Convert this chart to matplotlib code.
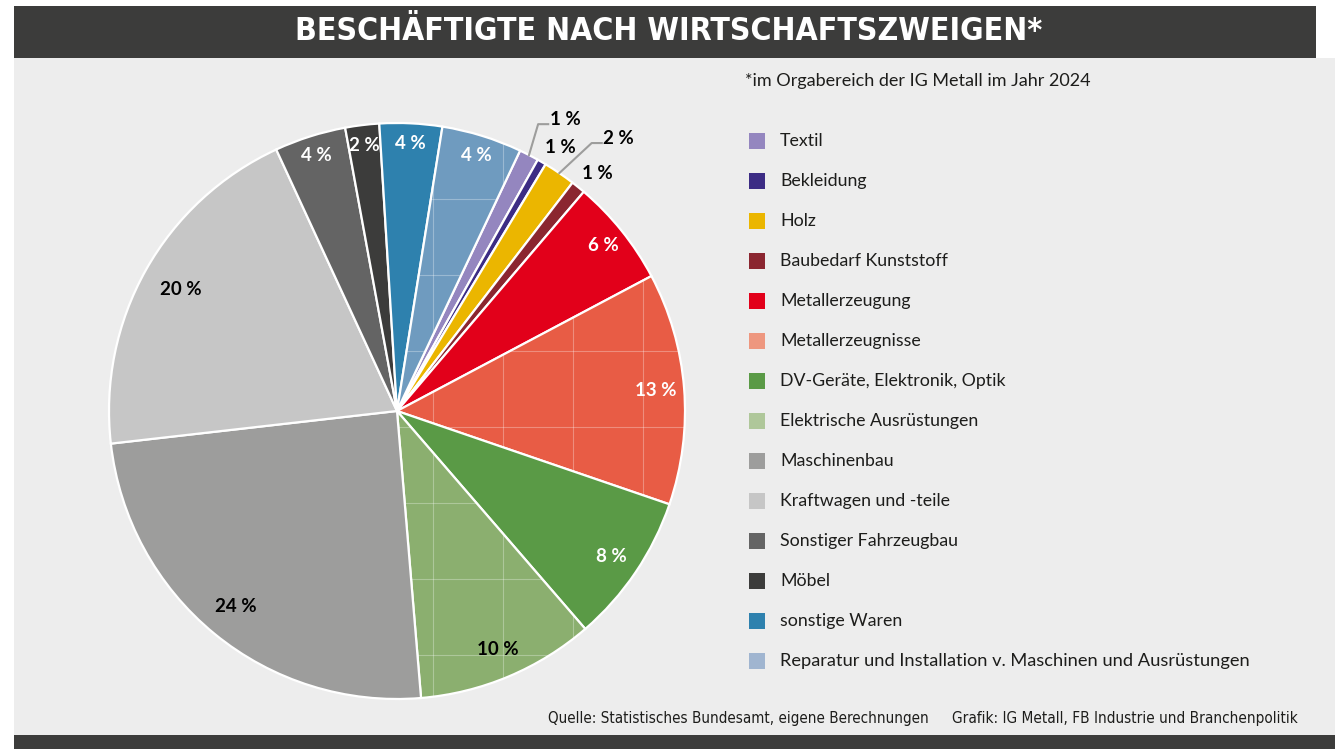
import numpy as np
import matplotlib
matplotlib.use("Agg")
import matplotlib.pyplot as plt
from matplotlib.patches import Rectangle
from matplotlib import font_manager

# data (clockwise from the top)
branches = ['Textil', 'Bekleidung', 'Holz', 'Baubedarf Kunststoff', 'Metallerzeugung',
            'Metallerzeugnisse', 'DV-Geräte, Elektronik, Optik', 'Elektrische Ausrüstungen',
            'Maschinenbau', 'Kraftwagen und -teile', 'Sonstiger Fahrzeugbau', 'Möbel',
            'sonstige Waren', 'Reparatur und Installation v. Maschinen und Ausrüstungen']
shares = [1.1, 0.5, 1.8, 0.8, 6.0, 13.0, 8.4, 10.0, 24.5, 19.9, 4.0, 1.9, 3.5, 4.5]
share_labels = ['1 %', '1 %', '2 %', '1 %', '6 %', '13 %', '8 %', '10 %', '24 %', '20 %',
                '4 %', '2 %', '4 %', '4 %']

slice_colors = ['#9486BF', '#3C2C84', '#EBB600', '#8B2630', '#E2001A', '#E85C45', '#5A9A46',
                '#8BAF6F', '#9D9D9C', '#C6C6C6', '#646464', '#3C3C3B', '#2E81AE', '#6F9BBF']
legend_colors = ['#9486BF', '#3C2C84', '#EBB600', '#8B2630', '#E2001A', '#EE977F', '#5A9A46',
                 '#AFC79A', '#9D9D9C', '#C6C6C6', '#646464', '#3C3C3B', '#2E81AE', '#A0B5D0']
label_colors = ['black', 'black', 'black', 'black', 'white', 'white', 'white', 'black',
                'black', 'black', 'white', 'white', 'white', 'white']

names = {f.name for f in font_manager.fontManager.ttflist}
body_font = 'Lato' if 'Lato' in names else 'DejaVu Sans'
if 'Liberation Sans Narrow' in names:
    narrow, stretch = 'Liberation Sans Narrow', 'normal'
else:
    narrow, stretch = 'DejaVu Sans', 'condensed'

W, H = 1335, 749
DARK = '#3C3C3B'
PANEL = '#EDEDED'
TXT = '#1D1D1B'

fig = plt.figure(figsize=(W / 100, H / 100), dpi=100)
fig.patch.set_facecolor('white')
renderer = fig.canvas.get_renderer()


def box(x0, y0, x1, y1, color):
    # pixel coords, y from the top
    fig.add_artist(Rectangle((x0 / W, 1 - y1 / H), (x1 - x0) / W, (y1 - y0) / H,
                             transform=fig.transFigure, color=color, lw=0, zorder=0))


def fit(t, width):
    # scale the font so the text is as wide as in the reference
    bb = t.get_window_extent(renderer)
    t.set_fontsize(t.get_fontsize() * width / bb.width)


box(14, 58, 1335, 735, PANEL)
box(14, 6, 1316, 58, DARK)
box(14, 735, 1335, 749, DARK)

title = fig.text(669 / W, 1 - 32 / H, 'BESCHÄFTIGTE NACH WIRTSCHAFTSZWEIGEN*', color='white',
                 fontsize=30, fontweight='bold', family=narrow, fontstretch=stretch,
                 ha='center', va='center')
fit(title, 745)

# pie axes, center (397, 411), radius 288 px
cx, cy, R = 397, 411, 288
pad = 1.02
ax = fig.add_axes([(cx - R * pad) / W, (H - cy - R * pad) / H, 2 * pad * R / W, 2 * pad * R / H])
wedges, _ = ax.pie(shares, colors=slice_colors, startangle=64.7, counterclock=False,
                   radius=1, wedgeprops=dict(edgecolor='white', linewidth=1.6))
ax.set_xlim(-pad, pad)
ax.set_ylim(-pad, pad)
ax.axis('off')

# faint grid texture seen in three of the slices
for i in [5, 7, 13]:
    for gx in np.arange(433, 700, 70):
        ln, = ax.plot([(gx - cx) / R] * 2, [-1.1, 1.1], color='white', lw=0.8, alpha=0.3)
        ln.set_clip_path(wedges[i])
    for gy in np.arange(199, 700, 76):
        ln, = ax.plot([-1.1, 1.1], [(cy - gy) / R] * 2, color='white', lw=0.8, alpha=0.3)
        ln.set_clip_path(wedges[i])


def polar(ang, r):
    # angle in degrees clockwise from 12 o'clock
    a = np.deg2rad(90 - ang)
    return np.cos(a) * r, np.sin(a) * r


# percentage labels
label_r = {4: 0.92, 8: 0.88, 9: 0.86, 10: 0.93, 11: 0.93, 12: 0.93, 13: 0.93}
outside = {1: (31.7, 1.077), 3: (40.2, 1.08)}
leaders = {0: (26.2, 1.11), 2: (36.0, 1.15)}
for i, w in enumerate(wedges):
    mid = (w.theta1 + w.theta2) / 2
    if i in leaders:
        x0, y0 = np.cos(np.deg2rad(mid)), np.sin(np.deg2rad(mid))
        x1, y1 = polar(*leaders[i])
        x2 = x1 + 0.035
        ax.plot([x0, x1, x2], [y0, y1, y1], color='#9D9D9C', lw=1.5, clip_on=False)
        ax.text(x2 + 0.005, y1 + 0.017, share_labels[i], fontsize=13.5, fontweight='bold',
                family=body_font, color='black', ha='left', va='center')
        continue
    if i in outside:
        x, y = polar(*outside[i])
    else:
        r = label_r.get(i, 0.9)
        x, y = np.cos(np.deg2rad(mid)) * r, np.sin(np.deg2rad(mid)) * r
    ax.text(x, y, share_labels[i], fontsize=13.5, fontweight='bold', family=body_font,
            color=label_colors[i], ha='center', va='center')

note = fig.text(745 / W, 1 - 81 / H, '*im Orgabereich der IG Metall im Jahr 2024', fontsize=12,
                family=body_font, color=TXT, ha='left', va='center')
fit(note, 344)

# legend
for i, name in enumerate(branches):
    yc = 141 + 40 * i
    box(749, yc - 8, 765, yc + 8, legend_colors[i])
    t = fig.text(780 / W, 1 - yc / H, name, fontsize=12.8, family=body_font, color=TXT,
                 ha='left', va='center')
    if i == len(branches) - 1:
        fit(t, 469)

src = fig.text(548 / W, 1 - 718 / H, 'Quelle: Statistisches Bundesamt, eigene Berechnungen',
               fontsize=10.5, family=narrow, fontstretch=stretch, color=TXT,
               ha='left', va='center')
fit(src, 385)
grafik = fig.text(952 / W, 1 - 718 / H, 'Grafik: IG Metall, FB Industrie und Branchenpolitik',
                  fontsize=10.5, family=narrow, fontstretch=stretch, color=TXT,
                  ha='left', va='center')
fit(grafik, 346)

fig.savefig('out.png', dpi=100, facecolor=fig.get_facecolor())
